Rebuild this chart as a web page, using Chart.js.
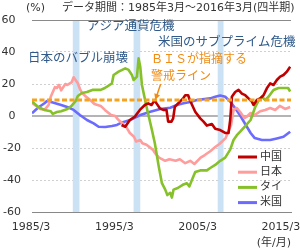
<!DOCTYPE html>
<html lang="ja">
<head>
<meta charset="utf-8">
<script src="https://cdn.jsdelivr.net/npm/chart.js@4.4.1/dist/chart.umd.min.js"></script>
<style>
  html, body { margin: 0; padding: 0; background: #fff; }
  #wrap { width: 300px; height: 250px; }
</style>
</head>
<body>
<div id="wrap"><canvas id="chart" width="300" height="250"></canvas></div>
<script>
(function() {
  'use strict';

  // 1985/3 .. 2016/3, quarterly; x is a decimal year
  var xMin = 1985;
  var xMax = 2016.1;
  var xTicks = [1985, 1995, 2005, 2015];
  var yMin = -60, yMax = 60, yStep = 20;
  var bisLevel = 10;
  var crisisBands = [[1989.9, 1990.7], [1997.2, 1998.0], [2007.3, 2008.0]];
  var seriesNames = ['中国', '日本', 'タイ', '米国'];
  var seriesColors = ['#c00000', '#ff9c9c', '#86c12a', '#6b6bff'];

  var china = [
    [1995.75, -5.6], [1996.2, -6.7], [1996.75, -2.5], [1997.35, -0.4], [1997.95, 3.8], [1998.55, 6.9],
    [1998.95, 7.9], [1999.35, 6.9], [1999.75, 10], [1999.95, 7.9], [2000.35, 4.8], [2000.75, 3.8],
    [2001.15, 3.8], [2001.35, -3.5], [2001.75, -3.5], [2001.95, -1.5], [2002.15, 5.8], [2002.55, 7.9],
    [2003.15, 11], [2003.4, 13], [2003.75, 13], [2003.95, 10], [2004.6, 2.7], [2005.2, -1.5],
    [2005.6, -3.5], [2006, -6], [2006.6, -5], [2007, -8], [2007.6, -8.8], [2008.2, -10.6],
    [2008.6, -10.6], [2008.8, -2.5], [2009, 12], [2009.4, 15], [2009.8, 16.3], [2010.2, 14],
    [2010.6, 13], [2011, 11], [2011.4, 9], [2011.6, 6.9], [2012, 10], [2012.4, 11], [2012.8, 13],
    [2013.2, 17.3], [2013.6, 20.4], [2014, 19.4], [2014.4, 22.5], [2014.8, 24.6], [2015.2, 25.6],
    [2015.6, 27.7], [2016, 30.8]
  ];
  var japan = [
    [1985, 8.1], [1985.5, 6.3], [1986, 4.4], [1986.5, 3.8], [1987, 6.9], [1987.25, 12], [1987.75, 18],
    [1988, 17.5], [1988.25, 19.4], [1988.5, 16], [1989, 20], [1989.25, 19.4], [1989.75, 21], [1990, 24.2],
    [1990.5, 20.5], [1990.75, 17], [1991, 14.4], [1991.5, 12], [1992, 10], [1992.5, 7.5], [1993.25, 6.3],
    [1993.75, 3.8], [1994.5, 0.6], [1995, 0], [1995.2, -1.4], [1995.5, -3], [1996.25, -6.3], [1996.75, -10.6],
    [1997.25, -13], [1997.5, -16], [1998, -15], [1998.25, -17], [1998.75, -18], [1999.5, -21], [1999.75, -23],
    [2000.25, -26], [2001, -28], [2001.5, -27], [2002.25, -28], [2002.75, -27], [2003.4, -29.5], [2004, -28],
    [2004.5, -30], [2005.25, -26], [2005.75, -24.4], [2006.4, -22], [2007, -19.4], [2007.5, -17.5],
    [2008.25, -13.8], [2008.5, -10.6], [2008.9, -5.6], [2009.2, 3.8], [2009.6, 5], [2010, 2.5], [2010.5, -1.3],
    [2010.75, -0.6], [2011.25, 1.9], [2011.75, 0.6], [2012.4, 3], [2013, 3.8], [2013.6, 5], [2014.2, 3.8],
    [2014.75, 6.3], [2015.4, 4.4], [2016, 5.6]
  ];
  var thailand = [
    [1985, 9], [1985.75, 5.6], [1986.5, 3.8], [1987.25, 3], [1987.5, 1.3], [1988, 2.5], [1988.5, 3],
    [1989.25, 4.4], [1989.75, 6.3], [1990.25, 9.4], [1990.5, 12.5], [1991, 14.4], [1991.6, 15], [1992.25, 16.3],
    [1993.25, 16.3], [1993.75, 17.5], [1994, 18.3], [1994.6, 20.4], [1994.8, 25.6], [1995.4, 27.7],
    [1996.2, 29.8], [1996.6, 28.8], [1997, 25.6], [1997.2, 22.5], [1997.6, 24.6], [1997.8, 36], [1998, 30.8],
    [1998.2, 19.4], [1998.75, 5.8], [1999.1, -2], [1999.4, -8.8], [1999.75, -17], [2000.2, -31], [2000.6, -42],
    [2001, -46], [2001.25, -49.4], [2001.6, -48], [2001.8, -51], [2002, -46], [2002.5, -45], [2003.1, -43],
    [2003.6, -42], [2003.9, -44], [2004.2, -40], [2004.6, -35], [2005.2, -34], [2006, -34], [2006.4, -32.5],
    [2007, -30.6], [2007.6, -28], [2008.2, -26], [2008.8, -21], [2009.2, -15], [2009.6, -12], [2010, -9.8],
    [2010.6, -6.3], [2011.25, -2.5], [2011.8, 5.6], [2012.25, 10], [2012.6, 12], [2013, 10], [2013.4, 12],
    [2014, 16.3], [2014.6, 17.5], [2015.2, 17.5], [2015.75, 17.5], [2016, 15.3]
  ];
  var usa = [
    [1985, 1.7], [1985.75, 5.3], [1986.5, 8], [1986.8, 9.4], [1987.5, 8.4], [1988.5, 6.9], [1989.4, 5.3],
    [1990, 3.8], [1990.75, 0.6], [1991.6, -2.5], [1992.4, -4.6], [1993, -6.7], [1993.8, -6.9], [1994.6, -6.3],
    [1995.2, -5.6], [1995.8, -4], [1996.8, -2.5], [1997.2, -1.5], [1998, 0.6], [1999.2, 2.7], [2000.4, 4.4],
    [2001.6, 5.2], [2002.4, 6.9], [2003.2, 8], [2004, 8.8], [2004.8, 10], [2006.4, 11], [2007, 12],
    [2007.6, 12.8], [2008.2, 12], [2008.8, 9], [2009.4, 4.8], [2010, 0.3], [2010.6, -5], [2011.25, -10.6],
    [2011.75, -13.8], [2012.6, -15], [2013.6, -15], [2014.4, -14], [2015.2, -13], [2016, -9.8]
  ];

  var FONT = '"DejaVu Sans", "Noto Sans CJK JP", sans-serif';
  var TEXT = '#333';
  var NAVY = '#2f5a8a';
  var ORANGE = '#f08c14';
  var DASH_ORANGE = '#f6a21e';

  Chart.defaults.font.family = FONT;
  Chart.defaults.font.size = 11;
  Chart.defaults.color = TEXT;

  function toPoints(pairs) {
    return pairs.map(function(p) { return { x: p[0], y: p[1] }; });
  }

  function lineSet(i, pairs, order) {
    return {
      label: seriesNames[i],
      data: toPoints(pairs),
      borderColor: seriesColors[i],
      borderWidth: 2.6,
      pointRadius: 0,
      tension: 0,
      borderJoinStyle: 'round',
      order: order
    };
  }

  function text(ctx, str, x, y, color, size, align) {
    ctx.font = size + 'px ' + FONT;
    ctx.fillStyle = color;
    ctx.textAlign = align || 'left';
    ctx.textBaseline = 'middle';
    ctx.fillText(str, x, y);
  }

  var bandPlugin = {
    id: 'crisisBands',
    beforeDatasetsDraw: function(chart) {
      var ctx = chart.ctx, xs = chart.scales.x, area = chart.chartArea;
      ctx.save();
      ctx.fillStyle = '#cbe1f4';
      crisisBands.forEach(function(b) {
        var x0 = xs.getPixelForValue(b[0]), x1 = xs.getPixelForValue(b[1]);
        ctx.fillRect(x0, area.top + 1, x1 - x0, area.bottom - area.top - 1);
      });
      ctx.restore();
    }
  };

  var notePlugin = {
    id: 'notes',
    afterDatasetsDraw: function(chart) {
      var ctx = chart.ctx, xs = chart.scales.x, ys = chart.scales.y;
      ctx.save();
      text(ctx, '(%)', 26, 8, TEXT, 11);
      text(ctx, 'データ期間：1985年3月～2016年3月(四半期)', 62, 8, TEXT, 11);
      text(ctx, 'アジア通貨危機', 87, 27, NAVY, 12.5);
      text(ctx, '米国のサブプライム危機', 158, 43, NAVY, 12.5);
      text(ctx, '日本のバブル崩壊', 28, 59, NAVY, 12.5);
      text(ctx, 'ＢＩＳが指摘する', 151, 60, ORANGE, 12);
      text(ctx, '警戒ライン', 151, 77, ORANGE, 12);

      // arrow to the BIS line
      var x0 = xs.getPixelForValue(2000.45), y0 = ys.getPixelForValue(20);
      var x1 = xs.getPixelForValue(1999.8), y1 = ys.getPixelForValue(bisLevel);
      var a = Math.atan2(y1 - y0, x1 - x0);
      ctx.strokeStyle = ORANGE;
      ctx.fillStyle = ORANGE;
      ctx.lineWidth = 1.5;
      ctx.beginPath();
      ctx.moveTo(x0, y0);
      ctx.lineTo(x1 - Math.cos(a) * 3, y1 - Math.sin(a) * 3);
      ctx.stroke();
      ctx.beginPath();
      ctx.moveTo(x1, y1);
      ctx.lineTo(x1 - Math.cos(a) * 6 + Math.sin(a) * 3, y1 - Math.sin(a) * 6 - Math.cos(a) * 3);
      ctx.lineTo(x1 - Math.cos(a) * 6 - Math.sin(a) * 3, y1 - Math.sin(a) * 6 + Math.cos(a) * 3);
      ctx.closePath();
      ctx.fill();

      // legend
      seriesNames.forEach(function(name, i) {
        var y = 157 + i * 15.2;
        ctx.strokeStyle = seriesColors[i];
        ctx.lineWidth = 3;
        ctx.beginPath();
        ctx.moveTo(238, y);
        ctx.lineTo(257, y);
        ctx.stroke();
        text(ctx, name, 260, y, TEXT, 11);
      });
      ctx.restore();
    }
  };

  new Chart(document.getElementById('chart'), {
    type: 'line',
    data: {
      datasets: [
        {
          label: 'BIS',
          data: [{ x: xMin, y: bisLevel }, { x: xMax, y: bisLevel }],
          borderColor: DASH_ORANGE,
          borderWidth: 3,
          borderDash: [5, 2.5],
          pointRadius: 0,
          order: 0
        },
        lineSet(0, china, 1),
        lineSet(2, thailand, 2),
        lineSet(1, japan, 3),
        lineSet(3, usa, 4)
      ]
    },
    options: {
      responsive: false,
      animation: false,
      devicePixelRatio: 1,
      layout: { padding: { top: 20, right: 9, left: 0, bottom: 0 } },
      plugins: { legend: { display: false }, tooltip: { enabled: false } },
      scales: {
        x: {
          type: 'linear',
          min: xMin,
          max: xMax,
          afterBuildTicks: function(scale) {
            scale.ticks = xTicks.map(function(v) { return { value: v }; });
          },
          afterFit: function(scale) {
            scale.height = 38;
            scale.paddingLeft = 0;
            scale.paddingRight = 0;
          },
          grid: { display: false, drawTicks: false },
          border: { display: true, color: '#888', width: 1 },
          ticks: {
            padding: 9,
            maxRotation: 0,
            autoSkip: false,
            labelOffset: -1,
            callback: function(v) { return v + '/3'; }
          },
          title: {
            display: true,
            text: '(年/月)',
            align: 'end',
            padding: { top: 0, bottom: 0 },
            font: { size: 11 }
          }
        },
        y: {
          min: yMin,
          max: yMax,
          afterFit: function(scale) { scale.width = 32; },
          ticks: {
            stepSize: yStep,
            padding: 11,
            callback: function(v) { return v < 0 ? String(v) : v + '\u2002'; }
          },
          border: {
            display: false,
            dash: function(c) {
              var v = c.tick ? c.tick.value : 0;
              return (v === 0 || Math.abs(v) === 60) ? [] : [2, 2];
            }
          },
          grid: {
            drawTicks: false,
            color: function(c) {
              var v = c.tick ? c.tick.value : 0;
              if (v === 0) return '#b4b4b4';
              if (Math.abs(v) === 60) return '#8a8a8a';
              return '#cfcfcf';
            },
            lineWidth: function(c) {
              return c.tick && c.tick.value === 0 ? 2 : 1;
            }
          }
        }
      }
    },
    plugins: [bandPlugin, notePlugin]
  });
})();
</script>
</body>
</html>
